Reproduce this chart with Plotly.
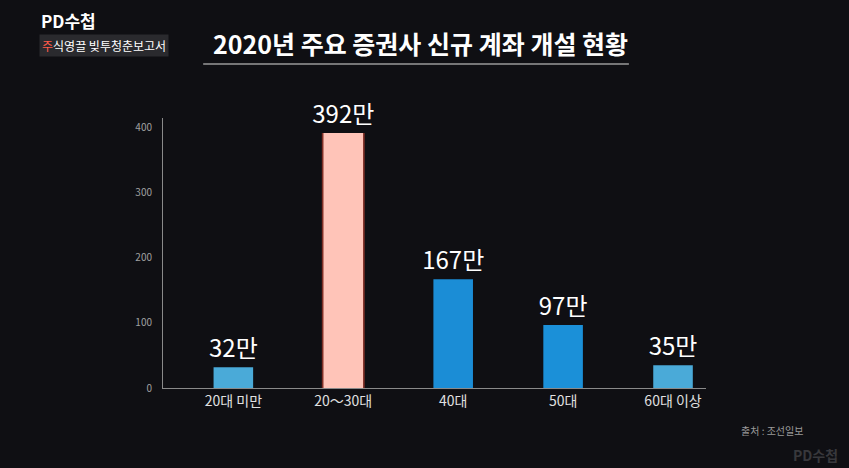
import plotly.graph_objects as go

# === DATA ===
age_groups = ["20대 미만", "20～30대", "40대", "50대", "60대 이상"]
accounts_10k = [32, 392, 167, 97, 35]  # 만 개
value_labels = ["32만", "392만", "167만", "97만", "35만"]
y_ticks = [0, 100, 200, 300, 400]

bar_colors = ["#4aaad8", "#ffc4b8", "#1b8dd6", "#1b90d8", "#4aaad8"]
FONT = "Noto Sans CJK KR"
BG = "#0f0f13"

fig = go.Figure()

# glow behind the highlighted bar
glow = [v if i == 1 else None for i, v in enumerate(accounts_10k)]
fig.add_trace(go.Bar(x=age_groups, y=glow, width=0.39,
                     marker=dict(color="rgba(240,80,55,0.5)", line=dict(width=0)),
                     hoverinfo="skip", showlegend=False))

fig.add_trace(go.Bar(
    x=age_groups, y=accounts_10k, width=0.36,
    marker=dict(color=bar_colors, line=dict(width=0)),
    text=value_labels, textposition="outside", cliponaxis=False,
    constraintext="none",
    textfont=dict(family=FONT, size=24, color="white"),
    showlegend=False))

fig.update_layout(
    width=849, height=468,
    paper_bgcolor=BG, plot_bgcolor=BG,
    margin=dict(l=163, r=143, t=118, b=80),
    barmode="overlay",
    font=dict(family=FONT, color="#dddddd"),
    xaxis=dict(range=[-0.64, 4.3], showgrid=False, zeroline=False,
               showline=True, linecolor="#8a8a8a", linewidth=1,
               ticks="", tickfont=dict(size=14, color="#e0e0e0"),
               fixedrange=True),
    yaxis=dict(range=[0, 415], tickvals=y_ticks, showgrid=False,
               zeroline=False, showline=True, linecolor="#8a8a8a",
               linewidth=1, ticks="", ticklabelstandoff=8,
               tickfont=dict(size=10, color="#a0a0a0")),
)

# title + underline
fig.add_annotation(text="<b>2020년 주요 증권사 신규 계좌 개설 현황</b>",
                   xref="paper", yref="paper", x=0.474, y=1.0,
                   xanchor="center", yanchor="bottom", yshift=55, showarrow=False,
                   font=dict(family=FONT, size=25, color="white"))
fig.add_shape(type="line", xref="paper", yref="paper", x0=0.074, x1=0.858,
              y0=1.2, y1=1.2, line=dict(color="#9a9a9a", width=1.5))

# programme logo
fig.add_annotation(text="<b>PD수첩</b>", xref="paper", yref="paper",
                   x=-0.228, y=1.36, xanchor="left", yanchor="middle",
                   showarrow=False, font=dict(family=FONT, size=17, color="white"))
fig.add_annotation(text="<span style='color:#ff5a4a'>주</span>식영끌 빚투청춘보고서",
                   xref="paper", yref="paper", x=-0.228, y=1.27,
                   xanchor="left", yanchor="middle", showarrow=False,
                   bgcolor="#2a2a2e", borderpad=2,
                   font=dict(family=FONT, size=12, color="white"))

# source + watermark
fig.add_annotation(text="출처 : 조선일보", xref="paper", yref="paper",
                   x=1.182, y=-0.156, xanchor="right", yanchor="middle",
                   showarrow=False, font=dict(family=FONT, size=10, color="#9a9a9a"))
fig.add_annotation(text="<b>PD수첩</b>", xref="paper", yref="paper",
                   x=1.247, y=-0.248, xanchor="right", yanchor="middle",
                   showarrow=False, font=dict(family=FONT, size=14, color="#38383c"))

fig.write_html("out.html", config={"displayModeBar": False},
               post_script="document.body.style.margin='0';"
                           "document.body.style.background='#0f0f13';")
